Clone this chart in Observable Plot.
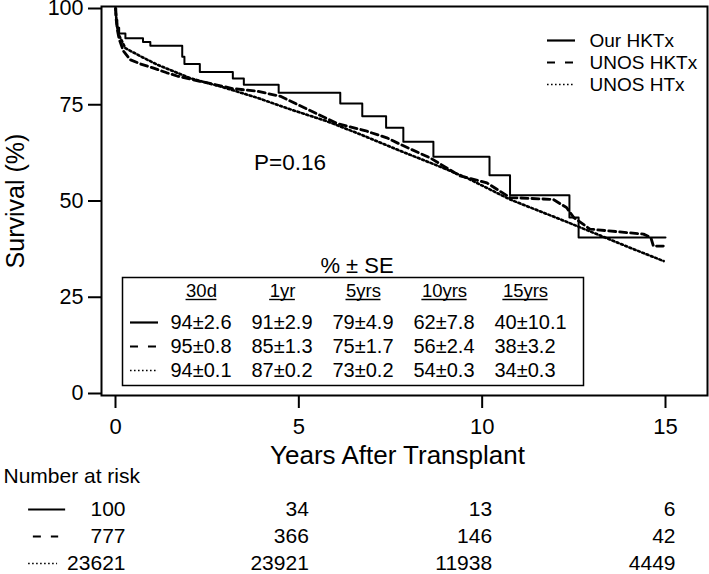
<!DOCTYPE html>
<html><head><meta charset="utf-8">
<script src="https://cdn.jsdelivr.net/npm/d3@7"></script>
<script src="https://cdn.jsdelivr.net/npm/@observablehq/plot@0.6"></script>
<style>
body{margin:0;background:#fff;}
#wrap{position:relative;width:709px;height:574px;overflow:hidden;background:#fff;}
#wrap svg{display:block;}
.ovl{position:absolute;}
</style></head><body><div id="wrap"></div>
<script>
// ---- data ----
const seriesNames = ["Our HKTx", "UNOS HKTx", "UNOS HTx"];

const ourT = [0, 0.02, 0.05, 0.1, 0.27, 0.75, 0.95, 1.82, 1.88, 2.3, 3.2, 3.5, 4.45, 6.13, 6.73, 7.38, 7.85, 8.67, 10.2, 10.76, 12.38, 12.63, 15.0];
const ourS = [100, 97, 95, 93.5, 92.3, 91.3, 90.3, 87.5, 85.6, 83.5, 81.8, 80.2, 78.1, 75.3, 72, 69, 65.4, 61.5, 56.7, 51.5, 45.7, 40.5, 40.5];

const hktxT = [0, 0.02, 0.05, 0.1, 0.22, 0.4, 0.68, 1.04, 1.4, 1.7, 2.3, 3.2, 3.87, 4.5, 5.15, 6.05, 6.8, 7.4, 7.77, 8.58, 9.4, 10.13, 10.76, 11.94, 12.3, 12.5, 12.94, 14.4, 14.6, 14.67, 14.94];
const hktxS = [100, 97, 94.5, 92, 88.9, 86.7, 85.6, 84.5, 83.3, 82.4, 81.1, 79.2, 78.5, 77.2, 74.2, 70.1, 68.3, 66.4, 64.7, 61.2, 56.5, 54.7, 50.9, 50.4, 48.3, 45.7, 42.7, 41.4, 40.5, 38.3, 38.3];

const htxT = [0, 0.02, 0.05, 0.1, 0.27, 0.68, 1.14, 1.58, 2.04, 2.95, 3.87, 4.77, 5.77, 6.68, 7.77, 8.7, 9.58, 10.76, 12.3, 14.1, 14.95];
const htxS = [100, 97.5, 95, 93, 89.7, 87.6, 85.4, 83.7, 81.9, 79.5, 76.8, 73.8, 70.7, 67.3, 63, 59.5, 56, 50.4, 44.6, 37.6, 34.4];

const tableCols = ["30d", "1yr", "5yrs", "10yrs", "15yrs"];
const tableOur  = ["94±2.6", "91±2.9", "79±4.9", "62±7.8", "40±10.1"];
const tableHktx = ["95±0.8", "85±1.3", "75±1.7", "56±2.4", "38±3.2"];
const tableHtx  = ["94±0.1", "87±0.2", "73±0.2", "54±0.3", "34±0.3"];

const riskTimes = [0, 5, 10, 15];
const riskOur  = [100, 34, 13, 6];
const riskHktx = [777, 366, 146, 42];
const riskHtx  = [23621, 23921, 11938, 4449];

const xTicks = [0, 5, 10, 15];
const yTicks = [0, 25, 50, 75, 100];
const pValue = "P=0.16";

// ---- build tables ----
const curveRows = [
  ...ourT.map((t, i) => ({series: "Our HKTx", t, s: ourS[i]})),
  ...hktxT.map((t, i) => ({series: "UNOS HKTx", t, s: hktxS[i]})),
  ...htxT.map((t, i) => ({series: "UNOS HTx", t, s: htxS[i]}))
];
const tableVals = [tableOur, tableHktx, tableHtx];
const tableCells = [];
seriesNames.forEach((name, r) => tableVals[r].forEach((v, c) => tableCells.push({series: name, col: c, v})));
const riskVals = [riskOur, riskHktx, riskHtx];
const riskRows = [];
seriesNames.forEach((name, r) => riskVals[r].forEach((n, c) => riskRows.push({series: name, t: riskTimes[c], n})));

const FONT = '"Liberation Sans", Arial, Helvetica, sans-serif';
const baseStyle = {fontFamily: FONT, background: "white", color: "black", overflow: "visible"};
const ovlStyle = {fontFamily: FONT, background: "transparent", color: "black", overflow: "visible"};

// line styles
const curveStyle = {
  "Our HKTx": {strokeWidth: 2, strokeDasharray: null, curve: "step-after"},
  "UNOS HKTx": {strokeWidth: 2.8, strokeDasharray: "7,4", curve: "linear"},
  "UNOS HTx": {strokeWidth: 2.6, strokeDasharray: "2,2.6", curve: "linear"}
};
const keyStyle = {
  "Our HKTx": {strokeWidth: 2.2, strokeDasharray: null},
  "UNOS HKTx": {strokeWidth: 2.2, strokeDasharray: "8,10"},
  "UNOS HTx": {strokeWidth: 1.6, strokeDasharray: "1.6,2.4"}
};

// ---- main chart ----
const main = Plot.plot({
  width: 709, height: 470,
  marginLeft: 101, marginRight: 2, marginTop: 6, marginBottom: 75,
  style: baseStyle,
  x: {domain: [0, 15], range: [115, 665]},
  y: {domain: [0, 100], range: [393, 8]},
  marks: [
    Plot.frame({stroke: "black", strokeWidth: 2}),
    Plot.axisY(yTicks, {tickSize: 13, tickPadding: 5, fontSize: 21.5, strokeWidth: 2, label: null}),
    Plot.axisX(xTicks, {tickSize: 13, tickPadding: 10, fontSize: 22, strokeWidth: 2, label: null}),
    Plot.text(["Survival (%)"], {frameAnchor: "left", textAnchor: "middle", lineAnchor: "middle", rotate: -90, dx: -86, fontSize: 25}),
    Plot.text(["Years After Transplant"], {frameAnchor: "bottom", textAnchor: "middle", lineAnchor: "middle", dy: 60, dx: -7, fontSize: 26}),
    ...seriesNames.slice().reverse().map(name => Plot.line(curveRows.filter(d => d.series === name), {
      x: "t", y: "s", stroke: "black", strokeWidth: curveStyle[name].strokeWidth,
      strokeDasharray: curveStyle[name].strokeDasharray, curve: curveStyle[name].curve
    })),
    Plot.text([pValue], {x: 4.76, y: 59.8, fontSize: 22.5})
  ]
});

// ---- number at risk ----
const riskKey = {
  "Our HKTx": [-2.37, -1.36],
  "UNOS HKTx": [-2.24, -1.55],
  "UNOS HTx": [-2.37, -1.58]
};
const risk = Plot.plot({
  width: 709, height: 104,
  marginLeft: 3, marginTop: 0, marginRight: 0, marginBottom: 0,
  style: baseStyle,
  x: {domain: [0, 15], range: [115, 665], axis: null},
  y: {domain: seriesNames, type: "point", range: [38, 93], padding: 0, axis: null},
  marks: [
    Plot.text(["Number at risk"], {frameAnchor: "top-left", lineAnchor: "middle", dy: 6, textAnchor: "start", fontSize: 21}),
    Plot.text(riskRows, {x: "t", y: "series", text: d => String(d.n), textAnchor: "end", dx: 10, fontSize: 21}),
    ...seriesNames.map(name => Plot.ruleY([name], {
      y: d => d, x1: riskKey[name][0], x2: riskKey[name][1], stroke: "black",
      strokeWidth: keyStyle[name].strokeWidth, strokeDasharray: keyStyle[name].strokeDasharray
    }))
  ]
});

// ---- legend overlay ----
const legend = Plot.plot({
  width: 165, height: 74, margin: 0,
  style: ovlStyle,
  x: {domain: [0, 1], range: [7, 35], axis: null},
  y: {domain: seriesNames, type: "point", range: [15, 59], padding: 0, axis: null},
  marks: [
    ...seriesNames.map(name => Plot.ruleY([name], {
      y: d => d, x1: 0, x2: 1, stroke: "black",
      strokeWidth: keyStyle[name].strokeWidth, strokeDasharray: keyStyle[name].strokeDasharray
    })),
    Plot.text(seriesNames, {x: 1, y: d => d, dx: 14, textAnchor: "start", fontSize: 19})
  ]
});

// ---- survival table overlay ----
const COL_STEP = 81, HEAD_DX = 31, HEAD_SIZE = 18.5;
const ctx = document.createElement("canvas").getContext("2d");
ctx.font = `${HEAD_SIZE}px "Liberation Sans", Arial, sans-serif`;
const headW = tableCols.map(c => ctx.measureText(c).width);
const table = Plot.plot({
  width: 480, height: 145,
  marginLeft: 12, marginRight: 7, marginTop: 32, marginBottom: 5,
  style: ovlStyle,
  x: {domain: [0, tableCols.length - 1], range: [60, 60 + COL_STEP * (tableCols.length - 1)], axis: null},
  y: {domain: seriesNames, type: "point", range: [77, 125], padding: 0, axis: null},
  marks: [
    Plot.frame({stroke: "black", strokeWidth: 1.5}),
    Plot.text(["% ± SE"], {frameAnchor: "top", textAnchor: "middle", lineAnchor: "middle", dy: -12, dx: 4, fontSize: 22}),
    Plot.text(tableCols, {x: (d, i) => i, frameAnchor: "top", textAnchor: "middle", lineAnchor: "middle", dy: 14, dx: HEAD_DX, fontSize: HEAD_SIZE}),
    Plot.ruleY(tableCols, {
      y: () => seriesNames[0], dy: -23,
      x1: (d, i) => i + (HEAD_DX - headW[i] / 2) / COL_STEP,
      x2: (d, i) => i + (HEAD_DX + headW[i] / 2) / COL_STEP,
      stroke: "black", strokeWidth: 1.4
    }),
    Plot.text(tableCells, {x: "col", y: "series", text: "v", textAnchor: "start", fontSize: 20}),
    ...seriesNames.map(name => Plot.ruleY([name], {
      y: d => d, x1: -0.494, x2: -0.148, stroke: "black",
      strokeWidth: keyStyle[name].strokeWidth, strokeDasharray: keyStyle[name].strokeDasharray
    }))
  ]
});

const wrap = document.getElementById("wrap");
wrap.appendChild(main);
wrap.appendChild(risk);
legend.classList.add("ovl");
legend.style.left = "540px"; legend.style.top = "25px";
table.classList.add("ovl");
table.style.left = "110px"; table.style.top = "245px";
wrap.appendChild(legend);
wrap.appendChild(table);
</script>
</body></html>
